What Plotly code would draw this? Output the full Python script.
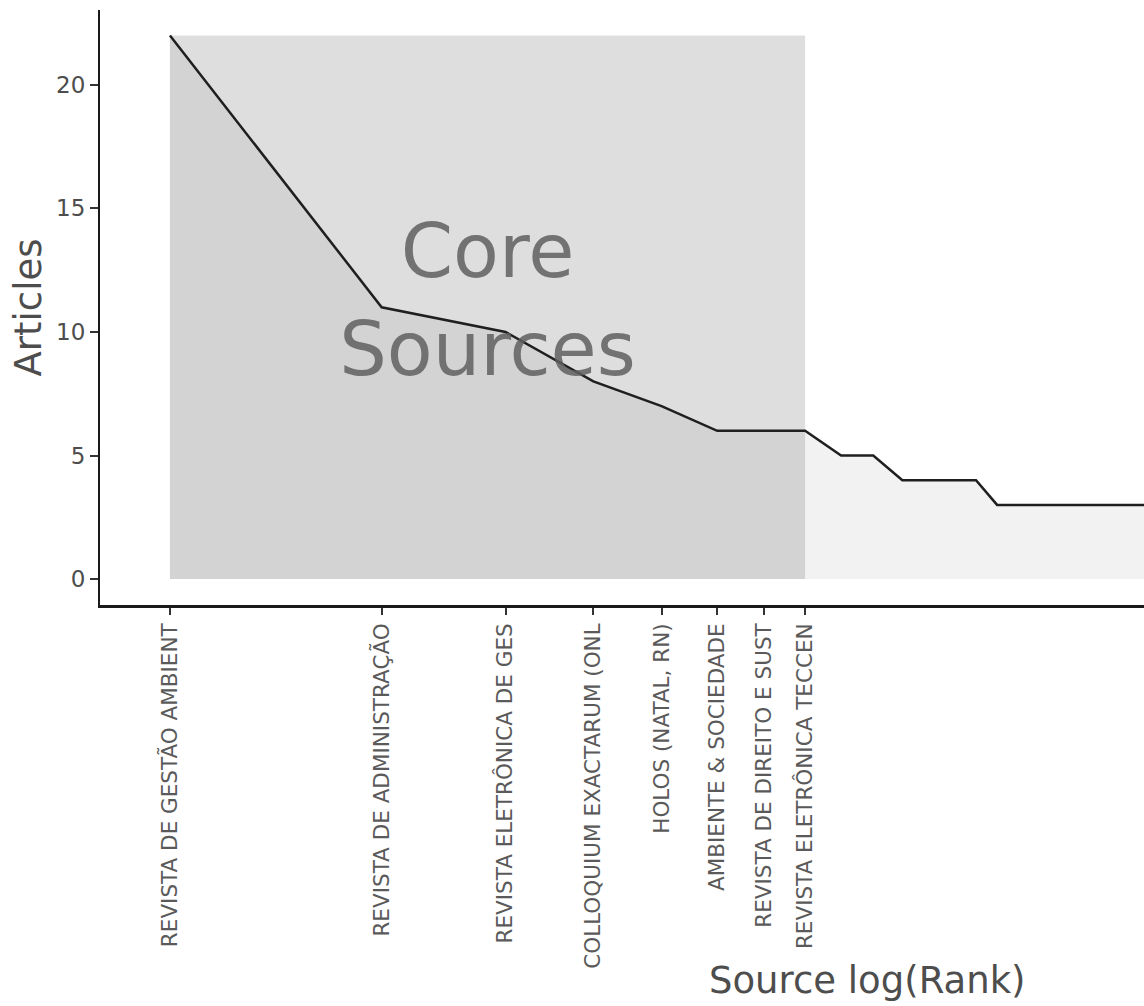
import numpy as np
import plotly.graph_objects as go

# ---- data ----
ranks = list(range(1, 26))
articles = [22, 11, 10, 8, 7, 6, 6, 6, 5, 5, 4, 4, 4, 4,
            3, 3, 3, 3, 3, 3, 3, 3, 3, 3, 3]
core_sources = [
    "REVISTA DE GESTÃO AMBIENT",
    "REVISTA DE ADMINISTRAÇÃO",
    "REVISTA ELETRÔNICA DE GES",
    "COLLOQUIUM EXACTARUM (ONL",
    "HOLOS (NATAL, RN)",
    "AMBIENTE & SOCIEDADE",
    "REVISTA DE DIREITO E SUST",
    "REVISTA ELETRÔNICA TECCEN",
]
y_ticks = [0, 5, 10, 15, 20]

logx = np.log(ranks)
n_core = len(core_sources)
core_end = float(np.log(n_core))
ymax = max(articles)

FONT = "DejaVu Sans"
fig = go.Figure()

# area under curve
fig.add_trace(go.Scatter(
    x=logx, y=articles, mode="lines", line=dict(width=0),
    fill="tozeroy", fillcolor="rgba(229,229,229,0.5)",
    hoverinfo="skip", showlegend=False))

# core rectangle (drawn over the area, below the line)
fig.add_trace(go.Scatter(
    x=[0, core_end, core_end, 0, 0], y=[0, 0, ymax, ymax, 0],
    mode="lines", line=dict(width=0), fill="toself",
    fillcolor="rgba(89,89,89,0.2)", hoverinfo="skip", showlegend=False))

# line
fig.add_trace(go.Scatter(
    x=logx, y=articles, mode="lines",
    line=dict(color="#1f1f1f", width=2.5),
    showlegend=False))

# Core sources label
fig.add_trace(go.Scatter(
    x=[core_end / 2], y=[ymax / 2], mode="text",
    text=["Core<br>Sources"],
    textfont=dict(family=FONT, size=75, color="rgba(95,95,95,0.85)"),
    hoverinfo="skip", showlegend=False))

fig.update_layout(
    width=1144, height=1006,
    margin=dict(l=100, r=0, t=10, b=401),
    paper_bgcolor="white", plot_bgcolor="white",
    font=dict(family=FONT, color="#4d4d4d"),
    showlegend=False,
    xaxis=dict(
        range=[-0.229, 3.189],
        tickvals=list(logx[:n_core]), ticktext=core_sources,
        tickangle=-90, tickfont=dict(size=21.5, color="#5a5a5a"),
        ticks="outside", ticklen=7, tickcolor="#333333", tickwidth=1.5,
        showline=True, linecolor="#1a1a1a", linewidth=2.5,
        showgrid=False, zeroline=False, automargin=False),
    yaxis=dict(
        range=[-1.05, 23.03],
        tickvals=y_ticks,
        tickfont=dict(size=23, color="#4d4d4d"),
        ticks="outside", ticklen=8, tickcolor="#333333", tickwidth=1.5,
        showline=True, linecolor="#1a1a1a", linewidth=2,
        showgrid=False, zeroline=False, automargin=False,
        title=dict(text="Articles", font=dict(size=37, color="#4d4d4d"),
                   standoff=3)),
    annotations=[dict(
        text="Source log(Rank)", xref="paper", yref="paper",
        x=(867 - 100) / 1044, y=(605 - 980) / 595,
        xanchor="center", yanchor="middle", showarrow=False,
        font=dict(family=FONT, size=37, color="#4d4d4d"))],
)

fig.write_html("out.html",
               config={"displayModeBar": False},
               post_script="document.body.style.margin='0';"
                           "document.body.style.overflow='hidden';")
